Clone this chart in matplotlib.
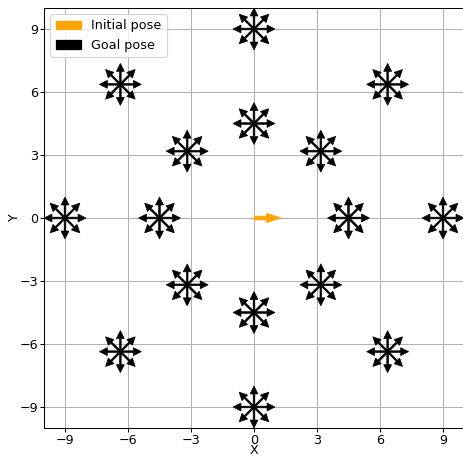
import matplotlib.pyplot as plt
import matplotlib.patches as mpatches
import numpy as np

# goal positions: two rings around the start, 8 bearings each
ring_radii = [4.5, 9.0]
ring_bearings_deg = [0, 45, 90, 135, 180, 225, 270, 315]
# every goal is tested with 8 headings
goal_headings_deg = [0, 45, 90, 135, 180, 225, 270, 315]

init_pose = [0.0, 0.0, 0.0]   # x, y, theta (deg)
ticks = [-9, -6, -3, 0, 3, 6, 9]

DPI = 92
fig = plt.figure(figsize=(463/DPI, 458/DPI), dpi=DPI)
ax = fig.add_axes([44/463, 30/458, 420/463, 420/458])
ax.set_axisbelow(True)
ax.grid(True, color='#b0b0b0', linewidth=0.8)

# goal poses
for r in ring_radii:
    for b in ring_bearings_deg:
        gx = r*np.cos(np.radians(b))
        gy = r*np.sin(np.radians(b))
        for h in goal_headings_deg:
            ax.arrow(gx, gy, np.cos(np.radians(h)), np.sin(np.radians(h)),
                     width=0.08, head_width=0.38, head_length=0.38,
                     length_includes_head=True, color='black', lw=0.5, zorder=3)

# initial pose
L = 1.3
ax.arrow(init_pose[0], init_pose[1], L*np.cos(np.radians(init_pose[2])),
         L*np.sin(np.radians(init_pose[2])), width=0.18, head_width=0.45,
         head_length=0.7, length_includes_head=True, color='orange', lw=0.5, zorder=4)

ax.set_xlim(-10, 10)
ax.set_ylim(-10, 10)
ax.set_xticks(ticks)
ax.set_yticks(ticks)
ax.tick_params(labelsize=10, length=3, pad=1.5)
ax.set_xlabel('X', fontsize=10, labelpad=-2)
ax.set_ylabel('Y', fontsize=10, labelpad=-1)

handles = [mpatches.Patch(color='orange', label='Initial pose'),
           mpatches.Patch(color='black', label='Goal pose')]
ax.legend(handles=handles, loc='upper left', fontsize=10)

plt.savefig('out.png', dpi=DPI)
